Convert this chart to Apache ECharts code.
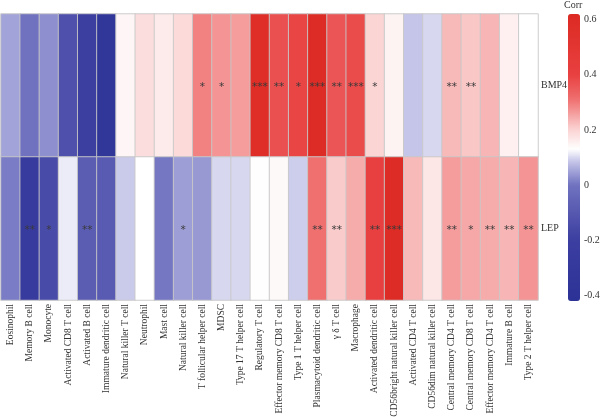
<!DOCTYPE html>
<html>
<head>
<meta charset="utf-8">
<script src="https://cdn.jsdelivr.net/npm/echarts@6/dist/echarts.min.js"></script>
<style>
  html, body { margin: 0; padding: 0; background: #fff; }
  #chart { width: 600px; height: 417px; }
</style>
</head>
<body>
<div id="chart"></div>
<script>
const cellTypes = [
  'Eosinophil', 'Memory B cell', 'Monocyte', 'Activated CD8 T cell', 'Activated B cell',
  'Immature dendritic cell', 'Natural killer T cell', 'Neutrophil', 'Mast cell',
  'Natural killer cell', 'T follicular helper cell', 'MDSC', 'Type 17 T helper cell',
  'Regulatory T cell', 'Effector memory CD8 T cell', 'Type 1 T helper cell',
  'Plasmacytoid dendritic cell', 'γ δ T cell', 'Macrophage', 'Activated dendritic cell',
  'CD56bright natural killer cell', 'Activated CD4 T cell', 'CD56dim natural killer cell',
  'Central memory CD4 T cell', 'Central memory CD8 T cell', 'Effector memory CD4 T cell',
  'Immature B cell', 'Type 2 T helper cell'
];
const genes = ['BMP4', 'LEP'];

const corrBMP4 = [0.05, 0.0, 0.03, -0.13, -0.2, -0.35, 0.145, 0.185, 0.165, 0.19,
  0.29, 0.27, 0.26, 0.58, 0.37, 0.39, 0.6, 0.36, 0.38, 0.2,
  0.15, 0.085, 0.1, 0.23, 0.215, 0.235, 0.155, 0.13];
const corrLEP = [0.01, -0.25, -0.15, 0.115, -0.08, -0.09, 0.09, 0.13, 0.005, 0.045,
  0.04, 0.1, 0.1, 0.132, 0.14, 0.092, 0.31, 0.21, 0.245, 0.4,
  0.6, 0.23, 0.17, 0.26, 0.25, 0.245, 0.235, 0.27];

const sigBMP4 = ['', '', '', '', '', '', '', '', '', '',
  '*', '*', '', '***', '**', '*', '***', '**', '***', '*',
  '', '', '', '**', '**', '', '', ''];
const sigLEP = ['', '**', '*', '', '**', '', '', '', '', '*',
  '', '', '', '', '', '', '**', '**', '', '**',
  '***', '', '', '**', '*', '**', '**', '**'];

const legendTicks = [-0.4, -0.2, 0, 0.2, 0.4, 0.6];

// colour ramp: blue -> white (about 0.13) -> red
const rampStops = [
  [-0.42, [44, 50, 150]],
  [-0.2, [60, 62, 160]],
  [0, [112, 114, 192]],
  [0.09, [202, 202, 235]],
  [0.13, [255, 255, 255]],
  [0.2, [251, 212, 212]],
  [0.31, [240, 112, 112]],
  [0.4, [232, 64, 64]],
  [0.62, [220, 42, 34]]
];
const vMin = -0.42, vMax = 0.62;

function rampColor(v) {
  for (let i = 1; i < rampStops.length; i++) {
    const [v1, c1] = rampStops[i];
    const [v0, c0] = rampStops[i - 1];
    if (v <= v1) {
      const t = (v - v0) / (v1 - v0);
      const c = c0.map((a, k) => Math.round(a + (c1[k] - a) * t));
      return 'rgb(' + c.join(',') + ')';
    }
  }
  return 'rgb(' + rampStops[rampStops.length - 1][1].join(',') + ')';
}
const rampColors = [];
for (let i = 0; i <= 104; i++) rampColors.push(rampColor(vMin + (vMax - vMin) * i / 104));

const heatData = [];
cellTypes.forEach((c, i) => {
  heatData.push({ value: [i, 0, corrBMP4[i]], sig: sigBMP4[i] });
  heatData.push({ value: [i, 1, corrLEP[i]], sig: sigLEP[i] });
});

const font = 'Liberation Serif';
const chart = echarts.init(document.getElementById('chart'), null, { renderer: 'canvas' });

// legend axis: grid placed so that -0.4..0.6 line up with the colour bar (-0.42..0.62)
const barTop = 14, barHeight = 287;
const pxPerUnit = barHeight / (vMax - vMin);

chart.setOption({
  animation: false,
  title: {
    text: 'Corr', left: 564, top: 0, padding: 0,
    textStyle: { fontFamily: font, fontSize: 10, fontWeight: 'normal', color: '#333' }
  },
  grid: [
    { left: 1, right: 62, top: 14, bottom: 117, outerBoundsMode: 'none' },
    { left: 568, width: 12, top: barTop + (vMax - 0.6) * pxPerUnit, height: 1.0 * pxPerUnit, outerBoundsMode: 'none' }
  ],
  xAxis: [
    {
      type: 'category', data: cellTypes, gridIndex: 0,
      axisLine: { show: false }, axisTick: { show: false }, splitLine: { show: false },
      axisLabel: { rotate: 90, interval: 0, margin: 4, fontFamily: font, fontSize: 9.5, color: '#333' }
    },
    { type: 'value', gridIndex: 1, show: false }
  ],
  yAxis: [
    {
      type: 'category', data: genes, gridIndex: 0, inverse: true, position: 'right',
      axisLine: { show: false }, axisTick: { show: false }, splitLine: { show: false },
      axisLabel: { margin: 3, fontFamily: font, fontSize: 10, color: '#333' }
    },
    {
      type: 'value', gridIndex: 1, position: 'right', min: -0.4, max: 0.6, interval: 0.2,
      axisLine: { show: false }, splitLine: { show: false },
      axisTick: { show: true, inside: true, length: 3, lineStyle: { color: '#fff', width: 1 } },
      axisLabel: { margin: 4, fontFamily: font, fontSize: 10, color: '#333',
        formatter: v => legendTicks.includes(Math.round(v * 10) / 10) ? String(Math.round(v * 10) / 10) : '' }
    },
    {
      type: 'value', gridIndex: 1, position: 'left', min: -0.4, max: 0.6, interval: 0.2,
      axisLine: { show: false }, splitLine: { show: false }, axisLabel: { show: false },
      axisTick: { show: true, inside: true, length: 3, lineStyle: { color: '#fff', width: 1 } }
    }
  ],
  visualMap: {
    type: 'continuous', min: vMin, max: vMax, calculable: false,
    left: 568, top: barTop, itemWidth: 12, itemHeight: barHeight, padding: 0,
    seriesIndex: 0, inRange: { color: rampColors }
  },
  series: [{
    type: 'heatmap', xAxisIndex: 0, yAxisIndex: 0, data: heatData,
    itemStyle: { borderColor: 'rgba(200,200,200,0.9)', borderWidth: 1 },
    label: {
      show: true, formatter: p => p.data.sig, color: '#3a3a3a',
      fontFamily: 'DejaVu Sans', fontSize: 10.5, offset: [0, 2]
    },
    emphasis: { disabled: true }
  }]
});
</script>
</body>
</html>
